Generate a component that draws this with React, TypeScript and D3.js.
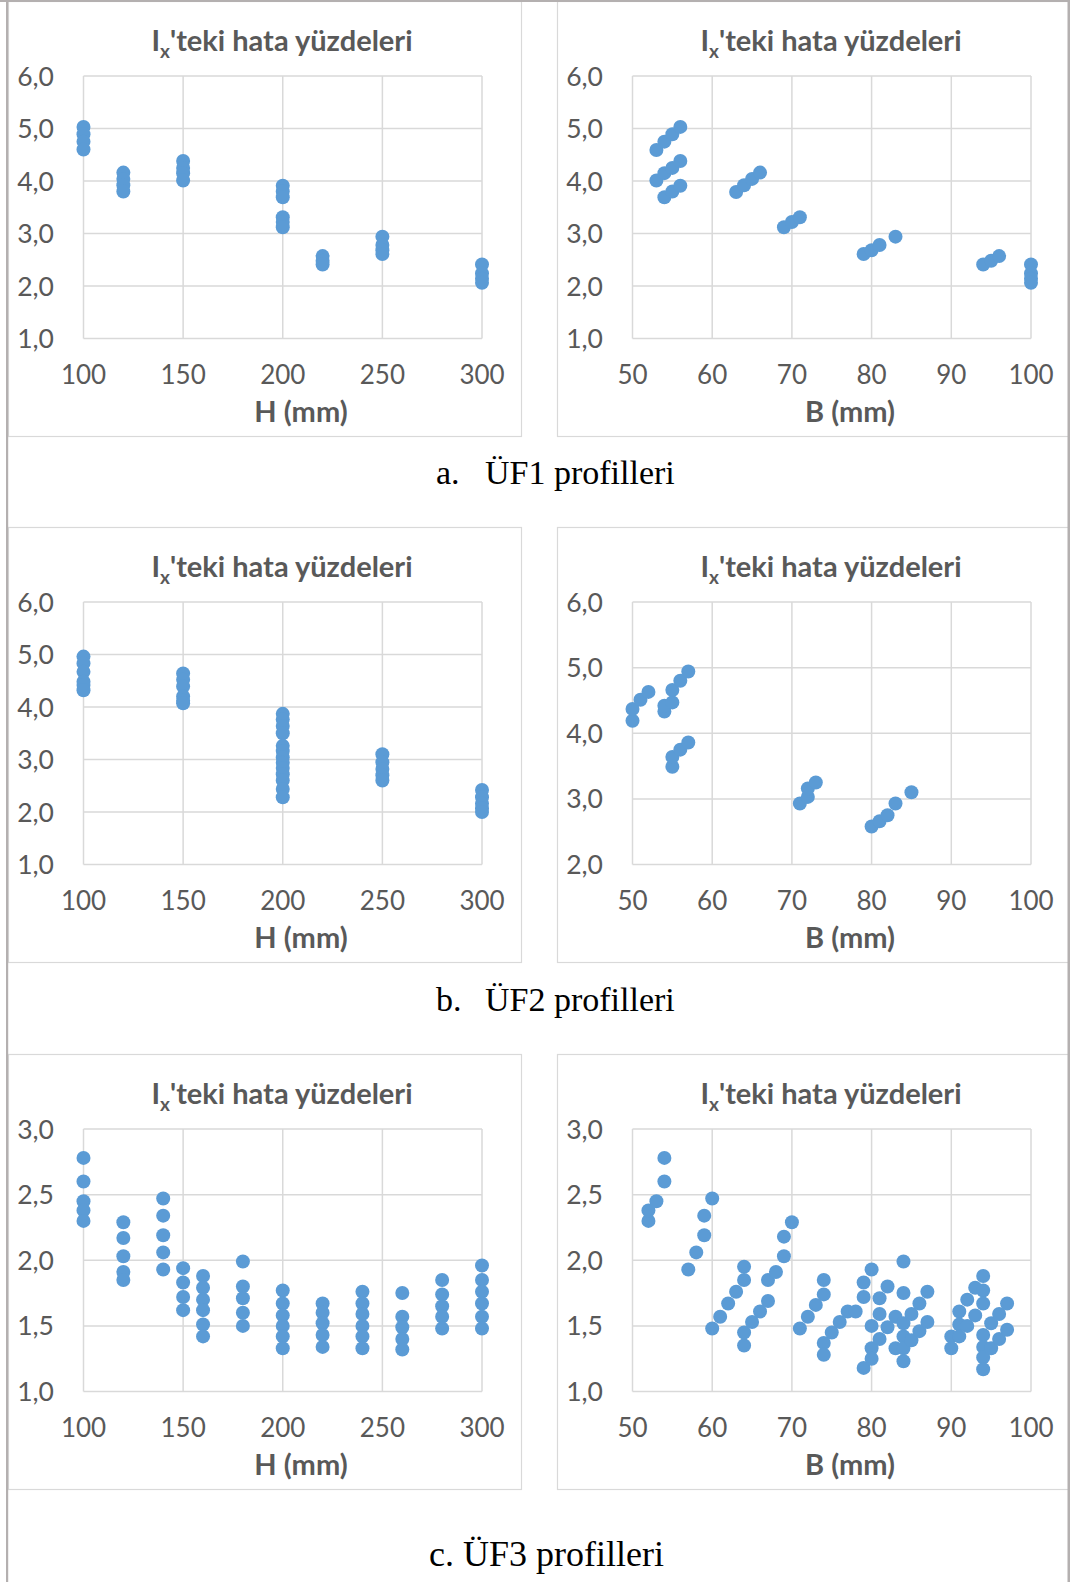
import React from "react";
import * as d3 from "d3";

// ---------- data ----------
const TITLE_MAIN = "I";
const TITLE_SUB = "x";
const TITLE_REST = "'teki hata yüzdeleri";
const X_LABEL_H = "H (mm)";
const X_LABEL_B = "B (mm)";
const CAPTIONS = ["a.", "b.", "c. ÜF3 profilleri"];
const CAPTION_TEXT = ["ÜF1 profilleri", "ÜF2 profilleri"];

const H_TICKS = [100, 150, 200, 250, 300];
const B_TICKS = [50, 60, 70, 80, 90, 100];
const Y_TICKS_6 = [1, 2, 3, 4, 5, 6];
const Y_TICKS_B2 = [2, 3, 4, 5, 6];
const Y_TICKS_3 = [1, 1.5, 2, 2.5, 3];

// ÜF1 – error vs H
const uf1H = [100, 100, 100, 100, 120, 120, 120, 120, 150, 150, 150, 150, 200, 200, 200, 200, 200, 200, 220, 220, 220, 250, 250, 250, 250, 300, 300, 300, 300];
const uf1HErr = [5.03, 4.89, 4.75, 4.6, 4.16, 4.04, 3.92, 3.8, 4.38, 4.25, 4.15, 4.01, 3.91, 3.8, 3.69, 3.31, 3.22, 3.12, 2.57, 2.48, 2.41, 2.94, 2.78, 2.68, 2.61, 2.41, 2.24, 2.14, 2.06];
// ÜF1 – error vs B
const uf1B = [53, 54, 55, 56, 53, 54, 55, 56, 54, 55, 56, 63, 64, 65, 66, 69, 70, 71, 79, 80, 81, 83, 94, 95, 96, 100, 100, 100, 100];
const uf1BErr = [4.59, 4.75, 4.89, 5.03, 4.01, 4.15, 4.25, 4.38, 3.69, 3.8, 3.91, 3.79, 3.92, 4.04, 4.16, 3.12, 3.22, 3.31, 2.61, 2.68, 2.78, 2.94, 2.41, 2.48, 2.57, 2.41, 2.24, 2.14, 2.06];

// ÜF2 – error vs H
const uf2H = [100, 100, 100, 100, 100, 100, 150, 150, 150, 150, 150, 150, 200, 200, 200, 200, 200, 200, 200, 200, 200, 200, 200, 200, 200, 250, 250, 250, 250, 250, 300, 300, 300, 300, 300];
const uf2HErr = [4.96, 4.83, 4.67, 4.48, 4.42, 4.32, 4.64, 4.52, 4.39, 4.2, 4.12, 4.07, 3.87, 3.76, 3.64, 3.5, 3.26, 3.16, 3.04, 2.94, 2.84, 2.72, 2.6, 2.44, 2.28, 3.1, 2.95, 2.82, 2.7, 2.6, 2.42, 2.28, 2.16, 2.07, 2.0];
// ÜF2 – error vs B
const uf2B = [50, 50, 51, 52, 54, 54, 55, 55, 56, 57, 55, 55, 56, 57, 71, 72, 72, 73, 80, 81, 82, 83, 85];
const uf2BErr = [4.19, 4.37, 4.51, 4.63, 4.33, 4.42, 4.47, 4.66, 4.8, 4.94, 3.49, 3.64, 3.75, 3.86, 2.93, 3.03, 3.16, 3.25, 2.58, 2.66, 2.75, 2.93, 3.1];

// ÜF3 – error vs H
const uf3H = [100, 100, 100, 100, 100, 120, 120, 120, 120, 120, 140, 140, 140, 140, 140, 150, 150, 150, 150, 160, 160, 160, 160, 160, 160, 180, 180, 180, 180, 180, 200, 200, 200, 200, 200, 200, 220, 220, 220, 220, 220, 240, 240, 240, 240, 240, 240, 260, 260, 260, 260, 260, 280, 280, 280, 280, 280, 300, 300, 300, 300, 300, 300];
const uf3HErr = [2.78, 2.6, 2.45, 2.38, 2.3, 2.29, 2.17, 2.03, 1.91, 1.85, 2.47, 2.34, 2.19, 2.06, 1.93, 1.94, 1.83, 1.72, 1.62, 1.88, 1.79, 1.7, 1.62, 1.51, 1.42, 1.99, 1.8, 1.71, 1.6, 1.5, 1.77, 1.67, 1.58, 1.5, 1.42, 1.33, 1.67, 1.6, 1.52, 1.43, 1.34, 1.76, 1.67, 1.59, 1.5, 1.42, 1.33, 1.75, 1.57, 1.49, 1.4, 1.32, 1.85, 1.74, 1.65, 1.57, 1.48, 1.96, 1.85, 1.76, 1.67, 1.57, 1.48];
// ÜF3 – error vs B
const uf3B = [52, 52, 53, 54, 54, 57, 58, 59, 59, 60, 60, 61, 62, 63, 64, 64, 64, 64, 65, 66, 67, 67, 68, 69, 69, 70, 71, 72, 73, 74, 74, 74, 74, 75, 76, 77, 78, 79, 79, 79, 80, 80, 80, 80, 81, 81, 81, 82, 82, 83, 83, 84, 84, 84, 84, 84, 84, 85, 85, 86, 86, 87, 87, 90, 90, 91, 91, 91, 92, 92, 93, 93, 94, 94, 94, 94, 94, 94, 94, 95, 95, 96, 96, 97, 97];
const uf3BErr = [2.3, 2.38, 2.45, 2.6, 2.78, 1.93, 2.06, 2.19, 2.34, 2.47, 1.48, 1.57, 1.67, 1.76, 1.35, 1.45, 1.85, 1.95, 1.53, 1.61, 1.69, 1.85, 1.91, 2.03, 2.18, 2.29, 1.48, 1.57, 1.66, 1.74, 1.85, 1.37, 1.28, 1.45, 1.53, 1.61, 1.61, 1.18, 1.72, 1.83, 1.93, 1.5, 1.33, 1.25, 1.4, 1.59, 1.71, 1.8, 1.49, 1.33, 1.57, 1.99, 1.75, 1.52, 1.42, 1.33, 1.23, 1.59, 1.39, 1.67, 1.46, 1.76, 1.53, 1.33, 1.42, 1.61, 1.51, 1.42, 1.7, 1.5, 1.58, 1.79, 1.88, 1.77, 1.67, 1.43, 1.34, 1.26, 1.17, 1.52, 1.33, 1.59, 1.4, 1.67, 1.47];

// ---------- styles ----------
const TXT = "#595959";
const GRID = "#d9d9d9";
const DOT = "#5b9bd5";
const SANS = "Lato, 'Open Sans', sans-serif";
const SERIF = "'Liberation Serif', 'Times New Roman', serif";

const BOX_W = 513;
const BOX_H = 435;
const PL = 75.5, PR = 474, PT = 75, PB = 337.5;

const fmt = (v: number) => d3.format(".1f")(v).replace(".", ",");

type ChartProps = {
  bx: number; by: number;
  xs: number[]; ys: number[];
  xDomain: [number, number]; xTicks: number[];
  yDomain: [number, number]; yTicks: number[];
  xLabel: string;
};

function Chart({ bx, by, xs, ys, xDomain, xTicks, yDomain, yTicks, xLabel }: ChartProps) {
  const x = d3.scaleLinear().domain(xDomain).range([bx + PL, bx + PR]);
  const y = d3.scaleLinear().domain(yDomain).range([by + PB, by + PT]);
  return (
    <g>
      <rect x={bx + 0.5} y={by + 0.5} width={BOX_W} height={BOX_H} fill="#fff" stroke={GRID} strokeWidth={1.2} />
      <text x={bx + 274} y={by + 50} textAnchor="middle" fill={TXT} fontFamily={SANS} fontWeight={700} fontSize={29}>
        <tspan>{TITLE_MAIN}</tspan>
        <tspan dy={7} fontSize={19}>{TITLE_SUB}</tspan>
        <tspan dy={-7}>{TITLE_REST}</tspan>
      </text>
      {yTicks.map((t) => (
        <line key={"gy" + t} x1={x(xDomain[0])} x2={x(xDomain[1])} y1={y(t)} y2={y(t)} stroke={GRID} strokeWidth={1.5} />
      ))}
      {xTicks.map((t) => (
        <line key={"gx" + t} x1={x(t)} x2={x(t)} y1={y(yDomain[0])} y2={y(yDomain[1])} stroke={GRID} strokeWidth={1.5} />
      ))}
      {yTicks.map((t) => (
        <text key={"ty" + t} x={bx + 46} y={y(t)} dy="0.36em" textAnchor="end" fill={TXT} fontFamily={SANS} fontSize={26.5}>{fmt(t)}</text>
      ))}
      {xTicks.map((t) => (
        <text key={"tx" + t} x={x(t)} y={by + 383} textAnchor="middle" fill={TXT} fontFamily={SANS} fontSize={26}>{t}</text>
      ))}
      <text x={bx + 293} y={by + 421} textAnchor="middle" fill={TXT} fontFamily={SANS} fontWeight={700} fontSize={29}>{xLabel}</text>
      {xs.map((v, i) => (
        <circle key={i} cx={x(v)} cy={y(ys[i])} r={7} fill={DOT} />
      ))}
    </g>
  );
}

export default function App() {
  const LX = 8, RX = 557;
  const rows = [1, 527, 1054];
  return (
    <div style={{ position: "absolute", left: 0, top: 0 }}>
      <svg width={1070} height={1582} style={{ display: "block", background: "#fff" }}>
        <Chart bx={LX} by={rows[0]} xs={uf1H} ys={uf1HErr} xDomain={[100, 300]} xTicks={H_TICKS} yDomain={[1, 6]} yTicks={Y_TICKS_6} xLabel={X_LABEL_H} />
        <Chart bx={RX} by={rows[0]} xs={uf1B} ys={uf1BErr} xDomain={[50, 100]} xTicks={B_TICKS} yDomain={[1, 6]} yTicks={Y_TICKS_6} xLabel={X_LABEL_B} />
        <Chart bx={LX} by={rows[1]} xs={uf2H} ys={uf2HErr} xDomain={[100, 300]} xTicks={H_TICKS} yDomain={[1, 6]} yTicks={Y_TICKS_6} xLabel={X_LABEL_H} />
        <Chart bx={RX} by={rows[1]} xs={uf2B} ys={uf2BErr} xDomain={[50, 100]} xTicks={B_TICKS} yDomain={[2, 6]} yTicks={Y_TICKS_B2} xLabel={X_LABEL_B} />
        <Chart bx={LX} by={rows[2]} xs={uf3H} ys={uf3HErr} xDomain={[100, 300]} xTicks={H_TICKS} yDomain={[1, 3]} yTicks={Y_TICKS_3} xLabel={X_LABEL_H} />
        <Chart bx={RX} by={rows[2]} xs={uf3B} ys={uf3BErr} xDomain={[50, 100]} xTicks={B_TICKS} yDomain={[1, 3]} yTicks={Y_TICKS_3} xLabel={X_LABEL_B} />

        <text x={436} y={484} fill="#000" fontFamily={SERIF} fontSize={34}>{CAPTIONS[0]}</text>
        <text x={485} y={484} fill="#000" fontFamily={SERIF} fontSize={34}>{CAPTION_TEXT[0]}</text>
        <text x={436} y={1011} fill="#000" fontFamily={SERIF} fontSize={34}>{CAPTIONS[1]}</text>
        <text x={485} y={1011} fill="#000" fontFamily={SERIF} fontSize={34}>{CAPTION_TEXT[1]}</text>
        <text x={429} y={1566} fill="#000" fontFamily={SERIF} fontSize={36}>{CAPTIONS[2]}</text>

        <rect x={1070 - 2.5} y={0} width={2.5} height={1582} fill="#b4b0b0" />
        <rect x={6} y={0} width={2.2} height={1582} fill="#b4b0b0" />
        <rect x={0} y={0} width={1070} height={2} fill="#b4b0b0" />
      </svg>
    </div>
  );
}
